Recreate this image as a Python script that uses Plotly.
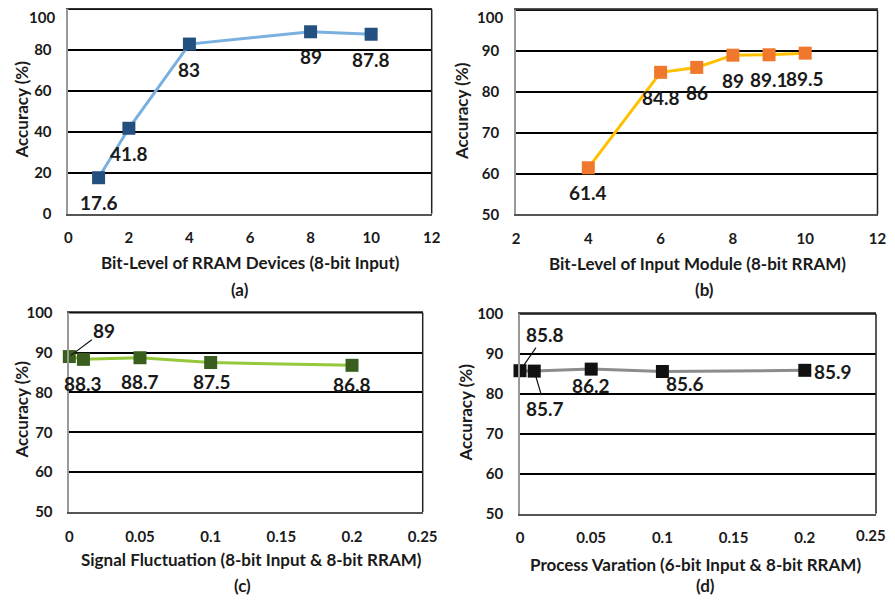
import plotly.graph_objects as go

# ---- data ----
a_x = [1, 2, 4, 8, 10]
a_y = [17.6, 41.8, 83, 89, 87.8]
b_x = [4, 6, 7, 8, 9, 10]
b_y = [61.4, 84.8, 86, 89, 89.1, 89.5]
c_x = [0, 0.01, 0.05, 0.1, 0.2]
c_y = [89, 88.3, 88.7, 87.5, 86.8]
d_x = [0, 0.01, 0.05, 0.1, 0.2]
d_y = [85.8, 85.7, 86.2, 85.6, 85.9]

a_yticks = [0, 20, 40, 60, 80, 100]
bcd_yticks = [50, 60, 70, 80, 90, 100]
ab_xticks = [0, 2, 4, 6, 8, 10, 12]
b_xticks = [2, 4, 6, 8, 10, 12]
cd_xticks = [0, 0.05, 0.1, 0.15, 0.2, 0.25]

x_titles = ["Bit-Level of RRAM Devices (8-bit Input)",
            "Bit-Level of Input Module (8-bit RRAM)",
            "Signal Fluctuation (8-bit Input & 8-bit RRAM)",
            "Process Varation (6-bit Input & 8-bit RRAM)"]
captions = ["(a)", "(b)", "(c)", "(d)"]
y_title = "Accuracy (%)"

FONT = "Lato"
OFF = 8  # page body margin
W, H = 895 - 2 * OFF, 603 - 2 * OFF   # no scrollbars

def px(x):
    return (x - OFF) / W

def py(y):
    return 1 - (y - OFF) / H

fig = go.Figure()

panels = [
    dict(x=a_x, y=a_y, line="#7AB0E0", marker="#24507F", xt=ab_xticks, yt=a_yticks,
         top=True, edge=False, dom_x=(68.3, 431.7), dom_y=(9.3, 213.7)),
    dict(x=b_x, y=b_y, line="#FFC000", marker="#F0782D", xt=b_xticks, yt=bcd_yticks,
         top=True, edge=False, dom_x=(516, 877.5), dom_y=(10.3, 214.3)),
    dict(x=c_x, y=c_y, line="#94C83A", marker="#3A5E1E", xt=cd_xticks, yt=bcd_yticks,
         top=False, edge=False, dom_x=(69.3, 422.7), dom_y=(312.7, 512)),
    dict(x=d_x, y=d_y, line="#8C8C8C", marker="#111111", xt=cd_xticks, yt=bcd_yticks,
         top=False, edge=True, dom_x=(520, 876), dom_y=(314, 513.7)),
]

tick_font = dict(family=FONT, size=15, color="#1a1a1a", weight="bold")
ann = []
layout = {}
for i, p in enumerate(panels):
    n = "" if i == 0 else str(i + 1)
    xa, ya = "x" + n, "y" + n
    fig.add_trace(go.Scatter(
        x=p["x"], y=p["y"], xaxis=xa, yaxis=ya, mode="lines+markers",
        line=dict(color=p["line"], width=3),
        marker=dict(symbol="square", size=13, color=p["marker"]),
        cliponaxis=False, showlegend=False, hoverinfo="skip"))
    xt = p["xt"]
    xshown = xt[:-1] if p["edge"] else xt
    layout["xaxis" + n] = dict(
        domain=[px(p["dom_x"][0]), px(p["dom_x"][1])], anchor=ya,
        range=[xt[0], xt[-1]], tickvals=xshown, showgrid=False, zeroline=False,
        showline=True, linecolor="#555555", linewidth=1.5, mirror=True,
        ticks="", ticklabelstandoff=10, automargin=False, ticklabeloverflow="allow",
        tickfont=tick_font)
    if p["edge"]:
        # last x tick label kept inside the page
        ann.append(dict(x=1, y=py(p["dom_y"][1] + 21), xref="paper", yref="paper",
                        text=str(xt[-1]), showarrow=False, font=tick_font,
                        xanchor="right", yanchor="middle", borderpad=0))
    yt = p["yt"]
    shown = yt[:-1] if p["top"] else yt
    layout["yaxis" + n] = dict(
        domain=[py(p["dom_y"][1]), py(p["dom_y"][0])], anchor=xa,
        range=[yt[0], yt[-1]], tickvals=shown, showgrid=True, gridcolor="#000000", gridwidth=1.5,
        zeroline=False, showline=True, linecolor="#999999", linewidth=1.5,
        ticks="", ticklabelstandoff=12, automargin=False, ticklabeloverflow="allow",
        tickfont=tick_font)
    if p["top"]:
        ann.append(dict(x=px(p["dom_x"][0] - 12), y=1, xref="paper", yref="paper",
                        text=str(yt[-1]), showarrow=False, font=tick_font,
                        xanchor="right", yanchor="top", yshift=1, borderpad=0))
    fig.add_shape(type="line", xref=xa + " domain", yref=ya + " domain",
                  x0=1, x1=1, y0=0, y1=1, line=dict(color="#222222", width=1.5), layer="above")
    fig.add_shape(type="line", xref=xa + " domain", yref=ya + " domain",
                  x0=0, x1=1, y0=1, y1=1, line=dict(color="#111111", width=1.5), layer="above")

fig.update_layout(**layout)

lab_font = dict(family=FONT, size=19, color="#1a1a1a", weight="bold")

def lab(xa, ya, x, y, dx=0, dy=-25):
    ann.append(dict(x=x, y=y, xref=xa, yref=ya, text=str(y), showarrow=False,
                    xshift=dx, yshift=dy, font=lab_font, xanchor="center", yanchor="middle"))

def lead(xa, ya, x, y, ax, ay):
    ann.append(dict(x=x, y=y, xref=xa, yref=ya, text=str(y), showarrow=True,
                    ax=ax, ay=ay, arrowhead=0, arrowwidth=1.2, arrowcolor="#111111",
                    standoff=2, font=lab_font))

for x, y in zip(a_x, a_y):
    lab("x", "y", x, y, 0, -25)
for x, y in zip(b_x, b_y):
    lab("x2", "y2", x, y, 0, -25)
lead("x3", "y3", c_x[0], c_y[0], 35, -26)
lab("x3", "y3", c_x[1], c_y[1], 0, -24)
lab("x3", "y3", c_x[2], c_y[2], 0, -24)
lab("x3", "y3", c_x[3], c_y[3], 1, -19)
lab("x3", "y3", c_x[4], c_y[4], 0, -19)
lead("x4", "y4", d_x[0], d_y[0], 25, -36)
lead("x4", "y4", d_x[1], d_y[1], 11, 37)
lab("x4", "y4", d_x[2], d_y[2], 0, -16)
lab("x4", "y4", d_x[3], d_y[3], 23, -12)
lab("x4", "y4", d_x[4], d_y[4], 28, -1)

title_font = dict(family=FONT, size=17, color="#1a1a1a", weight="bold")
title_pos = [(250, 262), (697.5, 263), (251.7, 559), (695, 564)]
cap_pos = [(240, 290), (704, 289), (242.7, 585), (705, 585)]
for t, (tx, ty), c, (cx, cy) in zip(x_titles, title_pos, captions, cap_pos):
    ann.append(dict(x=px(tx), y=py(ty), xref="paper", yref="paper", text=t, showarrow=False,
                    font=title_font, xanchor="center", yanchor="middle"))
    ann.append(dict(x=px(cx), y=py(cy), xref="paper", yref="paper", text=c, showarrow=False,
                    font=title_font, xanchor="center", yanchor="middle"))

ytitle_pos = [(8, 110, "left"), (461, 111, "center"), (8, 410, "left"), (465, 412.5, "center")]
for yx, yy, anc in ytitle_pos:
    ann.append(dict(x=px(yx), y=py(yy), xref="paper", yref="paper", text=y_title, showarrow=False,
                    font=title_font, textangle=-90, xanchor=anc, yanchor="middle"))

fig.update_layout(annotations=ann, width=W, height=H,
                  margin=dict(l=0, r=0, t=0, b=0, pad=0, autoexpand=False),
                  paper_bgcolor="white", plot_bgcolor="white")

fig.write_html("out.html")
